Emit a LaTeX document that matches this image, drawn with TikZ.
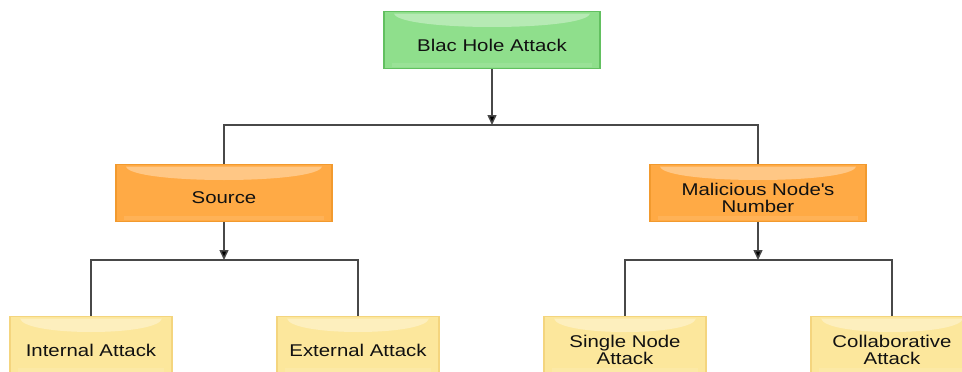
\documentclass[tikz,border=0pt]{standalone}
\usepackage{fontspec}
\setmainfont{Liberation Sans}[FakeStretch=1.2]
\usetikzlibrary{arrows.meta}

\definecolor{greenfill}{HTML}{8FDF8C}
\definecolor{greenline}{HTML}{62C060}
\definecolor{orangefill}{HTML}{FFAA45}
\definecolor{orangeline}{HTML}{F29A2E}
\definecolor{yellowfill}{HTML}{FCE79C}
\definecolor{yellowline}{HTML}{F4D57E}
\definecolor{wire}{HTML}{484848}
\definecolor{ink}{HTML}{111111}

\tikzset{
  box/.style={rectangle, draw, line width=1.2pt, inner sep=0pt,
    path picture={
      % glossy highlight along the top edge
      \fill[white, opacity=0.35]
        ([xshift=10pt,yshift=-2pt]path picture bounding box.north west)
        -- ([xshift=-10pt,yshift=-2pt]path picture bounding box.north east)
        .. controls ([xshift=-14pt,yshift=-20pt]path picture bounding box.north east)
        and ([xshift=14pt,yshift=-20pt]path picture bounding box.north west) .. cycle;
      % faint lighter strip along the bottom edge
      \fill[white, opacity=0.10]
        ([xshift=8pt,yshift=2pt]path picture bounding box.south west)
        rectangle ([xshift=-8pt,yshift=6pt]path picture bounding box.south east);
    }},
  greenbox/.style={box, fill=greenfill, draw=greenline, minimum width=216pt, minimum height=57pt},
  orangebox/.style={box, fill=orangefill, draw=orangeline, minimum width=216pt, minimum height=57pt},
  yellowbox/.style={box, fill=yellowfill, draw=yellowline, minimum width=162pt, minimum height=57pt},
  boxtext/.style={text=ink, align=center, yshift=-5pt, inner sep=0pt,
    font=\fontsize{17}{17.5}\selectfont},
  wireline/.style={draw=wire, line width=1.5pt},
  arrowline/.style={wireline, -{Triangle[length=10pt,width=9pt,fill=black]}},
}

\begin{document}
\begin{tikzpicture}[x=1pt, y=-1pt]
  \useasboundingbox (0,0) rectangle (962,372);
  \clip (0,0) rectangle (962,372);

  % root
  \node[greenbox, label={[boxtext]center:Blac Hole Attack}] (root) at (492,40) {};

  % second level
  \node[orangebox, label={[boxtext]center:Source}] (src) at (224,193) {};
  \node[orangebox, label={[boxtext]center:Malicious Node\textquotesingle s\\Number}] (mal) at (758,193) {};

  % leaves
  \node[yellowbox, label={[boxtext]center:Internal Attack}] (int) at (91,345) {};
  \node[yellowbox, label={[boxtext]center:External Attack}] (ext) at (358,345) {};
  \node[yellowbox, label={[boxtext]center:Single Node\\Attack}] (single) at (625,345) {};
  \node[yellowbox, label={[boxtext]center:Collaborative\\Attack}] (collab) at (892,345) {};

  % junction points on the horizontal bars
  \coordinate (j1) at (492,125);
  \coordinate (j2) at (224,260);
  \coordinate (j3) at (758,260);

  % root to second level
  \draw[arrowline] (root.south) -- (j1);
  \draw[wireline] (src.north) |- (j1) -| (mal.north);

  % Source to its leaves
  \draw[arrowline] (src.south) -- (j2);
  \draw[wireline] (int.north) |- (j2) -| (ext.north);

  % Malicious Node's Number to its leaves
  \draw[arrowline] (mal.south) -- (j3);
  \draw[wireline] (single.north) |- (j3) -| (collab.north);
\end{tikzpicture}
\end{document}
